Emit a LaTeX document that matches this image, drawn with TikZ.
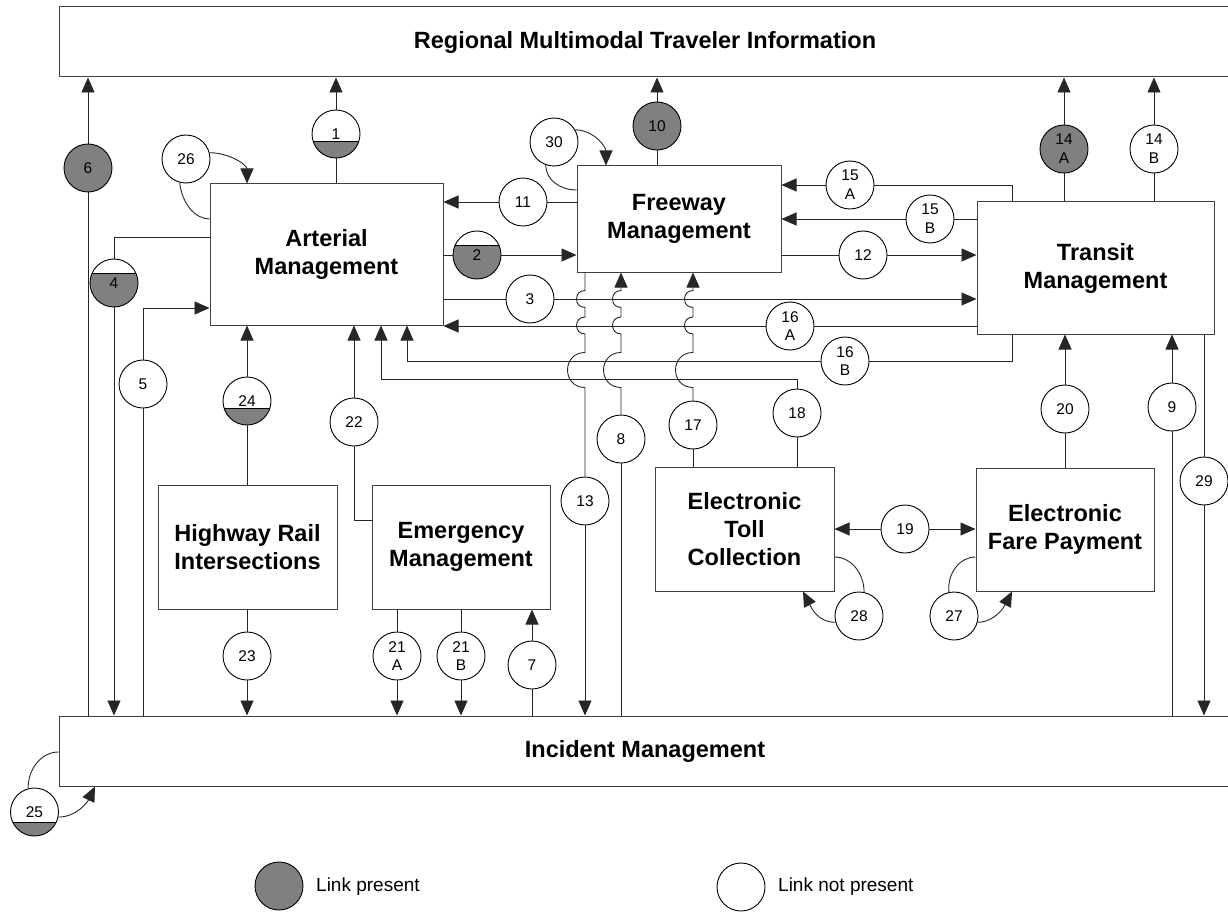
\documentclass[tikz,border=0pt]{standalone}
\usepackage{fontspec}
\setmainfont{Liberation Sans}
\usetikzlibrary{arrows.meta}
\definecolor{lk}{HTML}{808080}
\begin{document}
\begin{tikzpicture}[x=1pt,y=-1pt,
  box/.style={draw=black!75, line width=1pt, fill=white, align=center, inner sep=0pt,
    font=\fontsize{23.5}{28}\selectfont\bfseries},
  circ/.style={circle, draw=black, line width=0.9pt, fill=white, minimum size=48pt,
    inner sep=0pt, align=center, font=\fontsize{15.5}{18.7}\selectfont},
  full/.style={circ, fill=lk},
  half/.style={circ, path picture={
    \fill[lk] ([xshift=-30pt,yshift=#1]path picture bounding box.center) rectangle ([xshift=30pt,yshift=-30pt]path picture bounding box.center);
    \draw[line width=0.9pt] ([xshift=-30pt,yshift=#1]path picture bounding box.center) -- ([xshift=30pt,yshift=#1]path picture bounding box.center);}},
  ln/.style={draw=black!85, line width=0.9pt},
  arr/.style={ln, -{Triangle[length=15pt,width=13pt]}},
  darr/.style={ln, {Triangle[length=15pt,width=13pt]}-{Triangle[length=15pt,width=13pt]}},
  legtext/.style={anchor=west, inner sep=0pt, font=\fontsize{19}{22}\selectfont}
]
\useasboundingbox (0,0) rectangle (1228,912);

% boxes
\node[box, minimum width=1172pt, minimum height=70pt] (rmti) at (645,42) {Regional Multimodal Traveler Information};
\node[box, minimum width=1172pt, minimum height=70pt] (im) at (645,751) {Incident Management};
\node[box, minimum width=233pt, minimum height=141pt] (am) at (326.5,254.5) {Arterial\\Management};
\node[box, minimum width=204pt, minimum height=106pt] (fm) at (679,219) {Freeway\\Management};
\node[box, minimum width=237pt, minimum height=132pt] (tm) at (1095.5,268) {Transit\\Management};
\node[box, minimum width=179pt, minimum height=124pt] (hri) at (247.5,547) {Highway Rail\\Intersections};
\node[box, minimum width=178pt, minimum height=124pt] (em) at (461,547) {Emergency\\Management};
\node[box, minimum width=179pt, minimum height=124pt] (etc) at (744.5,529) {Electronic\\Toll\\Collection};
\node[box, minimum width=178pt, minimum height=123pt] (efp) at (1065,529.5) {Electronic\\Fare Payment};

% link circles
\node[half={-7pt}] (c1) at (336,134) {1};
\node[full] (c6) at (88,168) {6};
\node[circ] (c26) at (186,159) {26};
\node[half={10pt}] (c4) at (114,283) {4};
\node[circ] (c5) at (143,384) {5};
\node[half={-7pt}] (c24) at (247,401) {24};
\node[circ] (c22) at (354,422) {22};
\node[circ] (c18) at (797,413) {18};
\node[circ] (c16b) at (845,361) {16\\B};
\node[circ] (c16a) at (790,326) {16\\A};
\node[circ] (c3) at (530,299) {3};
\node[half={9.5pt}] (c2) at (477,255) {2};
\node[circ] (c11) at (523,202) {11};
\node[circ] (c30) at (554,142) {30};
\node[full] (c10) at (657,126) {10};
\node[circ] (c15a) at (850,185) {15\\A};
\node[circ] (c15b) at (930,219) {15\\B};
\node[circ] (c12) at (863,255) {12};
\node[full] (c14a) at (1064,149) {14\\A};
\node[circ] (c14b) at (1154,149) {14\\B};
\node[circ] (c20) at (1065,409) {20};
\node[circ] (c9) at (1172,407) {9};
\node[circ] (c29) at (1204,481) {29};
\node[circ] (c19) at (905,529) {19};
\node[circ] (c28) at (859,616) {28};
\node[circ] (c27) at (954,616) {27};
\node[circ] (c17) at (693,425) {17};
\node[circ] (c8) at (621,439) {8};
\node[circ] (c13) at (585,501) {13};
\node[circ] (c7) at (532,665) {7};
\node[circ] (c21a) at (397,656) {21\\A};
\node[circ] (c21b) at (461,656) {21\\B};
\node[circ] (c23) at (247,656) {23};
\node[half={-10pt}] (c25) at (34.5,812) {25};

% legend
\node[full] (lg1) at (279,886) {};
\node[legtext] (lt1) at (316,887) {Link present};
\node[circ] (lg2) at (741,887) {};
\node[legtext] (lt2) at (778,887) {Link not present};

% connectors
% 1
\draw[ln] (c1 |- am.north) -- (c1);
\draw[arr] (c1) -- (c1 |- rmti.south);
% 6
\draw[ln] (c6 |- im.north) -- (c6);
\draw[arr] (c6) -- (c6 |- rmti.south);
% 26
\draw[ln] (am.west |- 0,219) .. controls (194.5,219) and (182,203) .. (c26.-105);
\draw[arr] (c26.15) .. controls (230,153) and (247,165) .. (am.north -| 247,0);
% 4
\draw[ln] (am.west |- 0,237) -- (c4 |- 0,237) -- (c4);
\draw[arr] (c4) -- (c4 |- im.north);
% 5
\draw[ln] (c5 |- im.north) -- (c5);
\draw[arr] (c5) -- (c5 |- 0,308) -- (am.west |- 0,308);
% 24
\draw[ln] (c24 |- hri.north) -- (c24);
\draw[arr] (c24) -- (c24 |- am.south);
% 22
\draw[ln] (em.west |- 0,520) -- (c22 |- 0,520) -- (c22);
\draw[arr] (c22) -- (c22 |- am.south);
% 18
\draw[ln] (c18 |- etc.north) -- (c18);
\draw[arr] (c18) -- (c18 |- 0,379) -- (381,379) -- (am.south -| 381,0);
% 16B
\draw[ln] (tm.south -| 1012,0) -- (1012,361) -- (c16b);
\draw[arr] (c16b) -- (407,361) -- (am.south -| 407,0);
% 16A
\draw[ln] (tm.west |- c16a) -- (c16a);
\draw[arr] (c16a) -- (am.east |- c16a);
% 3
\draw[ln] (am.east |- c3) -- (c3);
\draw[arr] (c3) -- (tm.west |- c3);
% 2
\draw[ln] (am.east |- c2) -- (c2);
\draw[arr] (c2) -- (fm.west |- c2);
% 11
\draw[ln] (fm.west |- c11) -- (c11);
\draw[arr] (c11) -- (am.east |- c11);
% 30
\draw[ln] (fm.west |- 0,190) .. controls (560,190) and (546,180) .. (c30.-110);
\draw[arr] (c30.30) .. controls (594,130) and (606,147) .. (fm.north -| 606,0);
% 10
\draw[ln] (c10 |- fm.north) -- (c10);
\draw[arr] (c10) -- (c10 |- rmti.south);
% 15A
\draw[ln] (tm.north -| 1012,0) -- (1012,185) -- (c15a);
\draw[arr] (c15a) -- (fm.east |- c15a);
% 15B
\draw[ln] (tm.west |- c15b) -- (c15b);
\draw[arr] (c15b) -- (fm.east |- c15b);
% 12
\draw[ln] (fm.east |- c12) -- (c12);
\draw[arr] (c12) -- (tm.west |- c12);
% 14A / 14B
\draw[ln] (c14a |- tm.north) -- (c14a);
\draw[arr] (c14a) -- (c14a |- rmti.south);
\draw[ln] (c14b |- tm.north) -- (c14b);
\draw[arr] (c14b) -- (c14b |- rmti.south);
% 20
\draw[ln] (c20 |- efp.north) -- (c20);
\draw[arr] (c20) -- (c20 |- tm.south);
% 9
\draw[ln] (c9 |- im.north) -- (c9);
\draw[arr] (c9) -- (c9 |- tm.south);
% 29
\draw[ln] (c29 |- tm.south) -- (c29);
\draw[arr] (c29) -- (c29 |- im.north);
% 19
\draw[arr] (c19) -- (etc.east |- c19);
\draw[arr] (c19) -- (efp.west |- c19);
% 28
\draw[ln] (etc.east |- 0,557) .. controls (851,557) and (864,573) .. (c28.78);
\draw[arr] (c28.195) .. controls (817,622) and (811,607) .. (etc.south -| 803,0);
% 27
\draw[ln] (efp.west |- 0,557) .. controls (960,557) and (947,573) .. (c27.102);
\draw[arr] (c27.-15) .. controls (995,622) and (1004,607) .. (efp.south -| 1012,0);
% 17 (with hops)
\draw[ln] (c17 |- etc.north) -- (c17);
\draw[arr] (c17) -- (693,387.5) .. controls (669.7,387.5) and (669.7,352.5) .. (693,352.5)
  -- (693,334) .. controls (681.7,334) and (681.7,317) .. (693,317)
  -- (693,307.5) .. controls (681.7,307.5) and (681.7,290.5) .. (693,290.5)
  -- (c17 |- fm.south);
% 8 (with hops)
\draw[ln] (c8 |- im.north) -- (c8);
\draw[arr] (c8) -- (621,387.5) .. controls (597.7,387.5) and (597.7,352.5) .. (621,352.5)
  -- (621,334) .. controls (609.7,334) and (609.7,317) .. (621,317)
  -- (621,307.5) .. controls (609.7,307.5) and (609.7,290.5) .. (621,290.5)
  -- (c8 |- fm.south);
% 13 (with hops)
\draw[ln] (c13 |- fm.south) -- (585,290.5) .. controls (573.7,290.5) and (573.7,307.5) .. (585,307.5)
  -- (585,317) .. controls (573.7,317) and (573.7,334) .. (585,334)
  -- (585,352.5) .. controls (561.7,352.5) and (561.7,387.5) .. (585,387.5)
  -- (c13);
\draw[arr] (c13) -- (c13 |- im.north);
% 7
\draw[ln] (c7 |- im.north) -- (c7);
\draw[arr] (c7) -- (c7 |- em.south);
% 21A / 21B
\draw[ln] (c21a |- em.south) -- (c21a);
\draw[arr] (c21a) -- (c21a |- im.north);
\draw[ln] (c21b |- em.south) -- (c21b);
\draw[arr] (c21b) -- (c21b |- im.north);
% 23
\draw[ln] (c23 |- hri.south) -- (c23);
\draw[arr] (c23) -- (c23 |- im.north);
% 25
\draw[ln] (im.west |- 0,752) .. controls (42,752) and (28,768) .. (c25.105);
\draw[arr] (c25.-12) .. controls (76,817) and (87,803) .. (im.south -| 95,0);
\end{tikzpicture}
\end{document}
